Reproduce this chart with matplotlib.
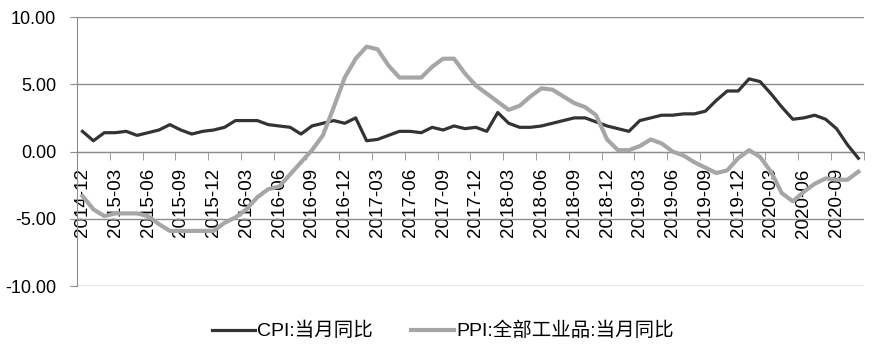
import numpy as np
import matplotlib
matplotlib.use("Agg")
import matplotlib.pyplot as plt
from matplotlib.ticker import FormatStrFormatter

plt.rcParams['font.family'] = ['Liberation Sans', 'Noto Sans CJK SC', 'DejaVu Sans']

# monthly data 2014-12 .. 2020-11
months = ["2014-12"]
for y in range(2015, 2021):
    for m in range(1, 13):
        if y == 2020 and m > 11:
            break
        months.append("%d-%02d" % (y, m))

cpi = [1.5,
       0.8, 1.4, 1.4, 1.5, 1.2, 1.4, 1.6, 2.0, 1.6, 1.3, 1.5, 1.6,
       1.8, 2.3, 2.3, 2.3, 2.0, 1.9, 1.8, 1.3, 1.9, 2.1, 2.3, 2.1,
       2.5, 0.8, 0.9, 1.2, 1.5, 1.5, 1.4, 1.8, 1.6, 1.9, 1.7, 1.8,
       1.5, 2.9, 2.1, 1.8, 1.8, 1.9, 2.1, 2.3, 2.5, 2.5, 2.2, 1.9,
       1.7, 1.5, 2.3, 2.5, 2.7, 2.7, 2.8, 2.8, 3.0, 3.8, 4.5, 4.5,
       5.4, 5.2, 4.3, 3.3, 2.4, 2.5, 2.7, 2.4, 1.7, 0.5, -0.5]

ppi = [-3.3,
       -4.3, -4.8, -4.6, -4.6, -4.6, -4.8, -5.4, -5.9, -5.9, -5.9, -5.9, -5.9,
       -5.3, -4.9, -4.3, -3.4, -2.8, -2.6, -1.7, -0.8, 0.1, 1.2, 3.3, 5.5,
       6.9, 7.8, 7.6, 6.4, 5.5, 5.5, 5.5, 6.3, 6.9, 6.9, 5.8, 4.9,
       4.3, 3.7, 3.1, 3.4, 4.1, 4.7, 4.6, 4.1, 3.6, 3.3, 2.7, 0.9,
       0.1, 0.1, 0.4, 0.9, 0.6, 0.0, -0.3, -0.8, -1.2, -1.6, -1.4, -0.5,
       0.1, -0.4, -1.5, -3.1, -3.7, -3.0, -2.4, -2.0, -2.1, -2.1, -1.5]

x = np.arange(len(months))

fig = plt.figure(figsize=(8.77, 3.58), dpi=100)
ax = fig.add_axes([0.0878, 0.201, 0.8972, 0.7515])

ax.plot(x, cpi, color="#333333", lw=2.3, label="CPI:当月同比", zorder=3)
ax.plot(x, ppi, color="#a6a6a6", lw=3.0, label="PPI:全部工业品:当月同比", zorder=3)

ax.set_xlim(-0.5, len(months) - 0.5)
ax.set_ylim(-10, 10)
ax.set_yticks([-10, -5, 0, 5, 10])
ax.yaxis.set_major_formatter(FormatStrFormatter("%.2f"))
ax.grid(axis="y", color="#8c8c8c", lw=1)

for s in ["top", "right"]:
    ax.spines[s].set_visible(False)
ax.spines["left"].set_color("#8c8c8c")
ax.spines["bottom"].set_position(("data", 0))
ax.spines["bottom"].set_color("#8c8c8c")

ax.set_xticks(x[::3])
ax.set_xticklabels(months[::3], rotation=90, fontsize=13.5)
ax.set_xticks(np.arange(-0.5, len(months), 3), minor=True)
ax.tick_params(axis="x", which="major", length=0, pad=12)
ax.tick_params(axis="x", which="minor", length=6, color="#8c8c8c", direction="out")
ax.tick_params(axis="y", length=5, color="#8c8c8c", labelsize=13, pad=10)

fig.legend(loc="center", bbox_to_anchor=(0.505, 0.075), ncol=2, frameon=False,
           fontsize=14, handlelength=2.2, handletextpad=0.1, columnspacing=2.0)

fig.savefig("out.png", dpi=100)
